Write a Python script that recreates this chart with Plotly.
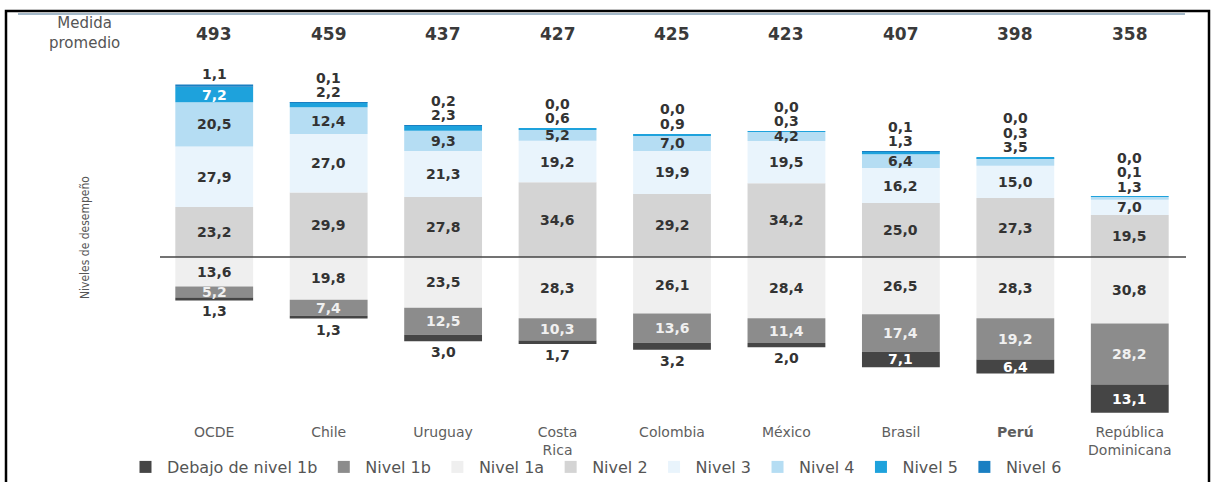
import plotly.graph_objects as go

# data
paises = ["OCDE", "Chile", "Uruguay", "Costa<br>Rica", "Colombia", "México", "Brasil", "<b>Perú</b>", "República<br>Dominicana"]
medida = [493, 459, 437, 427, 425, 423, 407, 398, 358]

debajo_1b = [1.3, 1.3, 3.0, 1.7, 3.2, 2.0, 7.1, 6.4, 13.1]
nivel_1b = [5.2, 7.4, 12.5, 10.3, 13.6, 11.4, 17.4, 19.2, 28.2]
nivel_1a = [13.6, 19.8, 23.5, 28.3, 26.1, 28.4, 26.5, 28.3, 30.8]
nivel_2 = [23.2, 29.9, 27.8, 34.6, 29.2, 34.2, 25.0, 27.3, 19.5]
nivel_3 = [27.9, 27.0, 21.3, 19.2, 19.9, 19.5, 16.2, 15.0, 7.0]
nivel_4 = [20.5, 12.4, 9.3, 5.2, 7.0, 4.2, 6.4, 3.5, 1.3]
nivel_5 = [7.2, 2.2, 2.3, 0.6, 0.9, 0.3, 1.3, 0.3, 0.1]
nivel_6 = [1.1, 0.1, 0.2, 0.0, 0.0, 0.0, 0.1, 0.0, 0.0]

# pixel geometry of the plot area
W, H = 1219, 482
L, R, T, B = 157, 1187, 71, 421
Z, K = 257, 2.16   # zero line pixel row, pixels per percentage point


def px(x):
    return (x - L) / (R - L)


def py(y):
    return (B - y) / (B - T)


def fmt(v):
    return f"{v:.1f}".replace(".", ",")


# (name, values, colour, label colour, legend rank)
below = [
    ("Nivel 1a", nivel_1a, "#efefef", "#333333", 3),
    ("Nivel 1b", nivel_1b, "#8c8c8c", "#f0f0f0", 2),
    ("Debajo de nivel 1b", debajo_1b, "#454545", "#ffffff", 1),
]
above = [
    ("Nivel 2", nivel_2, "#d4d4d4", "#333333", 4),
    ("Nivel 3", nivel_3, "#e9f4fc", "#333333", 5),
    ("Nivel 4", nivel_4, "#b5ddf3", "#333333", 6),
    ("Nivel 5", nivel_5, "#1ea2dc", "#ffffff", 7),
    ("Nivel 6", nivel_6, "#1a7fc2", "#ffffff", 8),
]

fig = go.Figure()
for name, vals, col, tc, rank in below:
    fig.add_trace(go.Bar(x=paises, y=[-v for v in vals], name=name, marker_color=col,
                         marker_line_width=0, width=0.68, legendrank=rank, hoverinfo="skip"))
for name, vals, col, tc, rank in above:
    fig.add_trace(go.Bar(x=paises, y=vals, name=name, marker_color=col,
                         marker_line_width=0, width=0.68, legendrank=rank, hoverinfo="skip"))

lab_font = dict(family="DejaVu Sans", size=14, color="#333333")
ann = []
for i, p in enumerate(paises):
    # positive side
    base = 0
    small = []
    for name, vals, col, tc, rank in above:
        v = vals[i]
        if v >= 4:
            ann.append(dict(x=p, y=base + v / 2, text="<b>" + fmt(v) + "</b>", showarrow=False,
                            font=dict(lab_font, color=tc)))
        else:
            small.append(v)
        base += v
    for k, v in enumerate(small):
        ann.append(dict(x=p, y=base, yshift=10 + 14.5 * k, text="<b>" + fmt(v) + "</b>",
                        yanchor="middle", showarrow=False, font=lab_font))
    # negative side
    base = 0
    for name, vals, col, tc, rank in below:
        v = vals[i]
        if v >= 4:
            ann.append(dict(x=p, y=base - v / 2, text="<b>" + fmt(v) + "</b>", showarrow=False,
                            font=dict(lab_font, color=tc)))
        else:
            ann.append(dict(x=p, y=base - v, yshift=-11, text="<b>" + fmt(v) + "</b>",
                            yanchor="middle", showarrow=False, font=lab_font))
        base -= v

# header row
ann.append(dict(xref="paper", yref="paper", x=px(84), y=py(33), xanchor="center", yanchor="middle",
                text="Medida<br>promedio", showarrow=False,
                font=dict(family="DejaVu Sans", size=15, color="#555555")))
for p, m in zip(paises, medida):
    ann.append(dict(x=p, yref="paper", y=py(34), xanchor="center", yanchor="middle",
                    text="<b>" + str(m) + "</b>", showarrow=False,
                    font=dict(family="DejaVu Sans", size=17, color="#3a3a3a")))
ann.append(dict(xref="paper", yref="paper", x=px(85), y=py(238), xanchor="center", yanchor="middle",
                text="Niveles de desempeño", textangle=-90, showarrow=False,
                font=dict(family="DejaVu Sans Condensed, DejaVu Sans", size=12, color="#555555")))

shapes = [
    dict(type="line", xref="paper", yref="y", x0=px(160), x1=px(1186), y0=0, y1=0,
         line=dict(color="#444444", width=1.5)),
    dict(type="line", xref="paper", yref="paper", x0=px(18), x1=px(1185), y0=py(14), y1=py(14),
         line=dict(color="#a3b8c8", width=2)),
    dict(type="rect", xref="paper", yref="paper", x0=px(6), x1=px(1209), y0=py(11), y1=py(500),
         line=dict(color="#000000", width=2.5)),
]

fig.update_layout(
    width=W, height=H,
    barmode="relative",
    paper_bgcolor="white", plot_bgcolor="white",
    margin=dict(l=L, r=W - R, t=T, b=H - B, autoexpand=False),
    font=dict(family="DejaVu Sans", color="#555555"),
    xaxis=dict(showgrid=False, zeroline=False, showline=False, ticks="",
               tickfont=dict(family="DejaVu Sans", size=14, color="#5e5e5e"), ticklabelstandoff=1),
    yaxis=dict(range=[-(B - Z) / K, (Z - T) / K], visible=False),
    showlegend=True,
    legend=dict(orientation="h", x=px(124), xanchor="left", y=py(467), yanchor="middle",
                bgcolor="rgba(0,0,0,0)", font=dict(family="DejaVu Sans", size=16, color="#555555"),
                traceorder="normal", itemwidth=33),
    annotations=ann,
    shapes=shapes,
)

fig.write_html("out.html", config={"displayModeBar": False},
               post_script="document.body.style.margin='0';")
